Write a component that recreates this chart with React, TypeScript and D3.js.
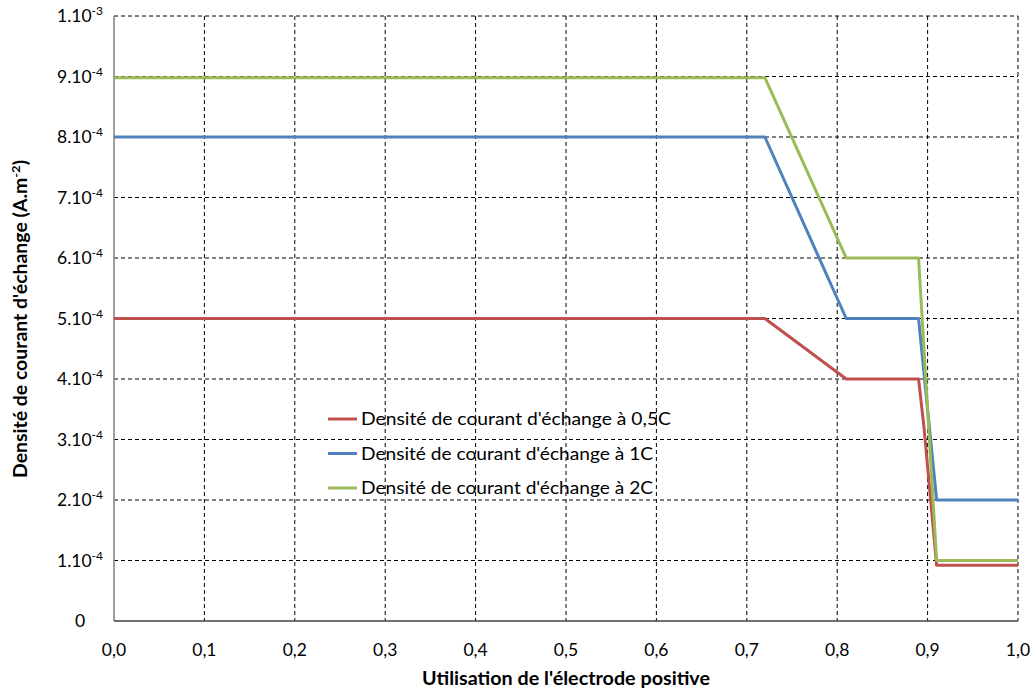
import React from "react";
import * as d3 from "d3";

const xTicks = [0, 0.1, 0.2, 0.3, 0.4, 0.5, 0.6, 0.7, 0.8, 0.9, 1.0];
const yTicks = [0, 1e-4, 2e-4, 3e-4, 4e-4, 5e-4, 6e-4, 7e-4, 8e-4, 9e-4, 1e-3];
const yTickMantissa = ["0", "1.10", "2.10", "3.10", "4.10", "5.10", "6.10", "7.10", "8.10", "9.10", "1.10"];
const yTickExp = ["", "-4", "-4", "-4", "-4", "-4", "-4", "-4", "-4", "-4", "-3"];

const seriesNames = [
  "Densité de courant d'échange à 0,5C",
  "Densité de courant d'échange à 1C",
  "Densité de courant d'échange à 2C",
];
const seriesColors = ["#C0504D", "#4F81BD", "#9BBB59"];

const redX = [0, 0.72, 0.81, 0.89, 0.896, 0.91, 1.0];
const redY = [5e-4, 5e-4, 4e-4, 4e-4, 3.2e-4, 0.92e-4, 0.92e-4];
const blueX = [0, 0.72, 0.81, 0.89, 0.91, 1.0];
const blueY = [8e-4, 8e-4, 5e-4, 5e-4, 2e-4, 2e-4];
const greenX = [0, 0.72, 0.81, 0.89, 0.91, 1.0];
const greenY = [8.98e-4, 8.98e-4, 6e-4, 6e-4, 1e-4, 1e-4];

const seriesX = [redX, blueX, greenX];
const seriesY = [redY, blueY, greenY];

const W = 1036, H = 690;
const L = 114, R = 1018, T = 16, B = 621;

export default function App() {
  const x = d3.scaleLinear().domain([0, 1]).range([L, R]);
  const y = d3.scaleLinear().domain([0, 1e-3]).range([B, T]);
  const line = d3.line<[number, number]>().x(d => x(d[0])).y(d => y(d[1]));
  const font = "Lato, 'Open Sans', sans-serif";
  const legendLen = [310, 292, 292];
  return (
    <svg width={W} height={H} style={{ position: "absolute", left: 0, top: 0, background: "#fff" }}>
      <rect x={0} y={0} width={W} height={H} fill="#fff" />
      {/* grid */}
      {xTicks.slice(1).map((t, i) => (
        <line key={"gx" + i} x1={x(t)} x2={x(t)} y1={T} y2={B} stroke="#000" strokeWidth={1} strokeDasharray="4,3" />
      ))}
      {yTicks.slice(1).map((t, i) => (
        <line key={"gy" + i} x1={L} x2={R} y1={y(t)} y2={y(t)} stroke="#000" strokeWidth={1} strokeDasharray="4,3" />
      ))}
      {/* axes */}
      <line x1={L} x2={L} y1={T} y2={B} stroke="#808080" strokeWidth={1.5} />
      <line x1={L} x2={R} y1={B} y2={B} stroke="#404040" strokeWidth={1.5} />
      {/* series */}
      {seriesX.map((xs, si) => (
        <path key={"s" + si} d={line(xs.map((v, i) => [v, seriesY[si][i]]) as [number, number][]) || ""}
          fill="none" stroke={seriesColors[si]} strokeWidth={3} strokeLinejoin="round" />
      ))}
      {/* y tick labels */}
      {yTicks.map((t, i) => (
        <text key={"yt" + i} x={80} y={y(t) + 6} textAnchor="middle" fontFamily={font} fontSize={17.5} fill="#000">
          {yTickMantissa[i]}
          {yTickExp[i] && <tspan fontSize={12} dy={-7}>{yTickExp[i]}</tspan>}
        </text>
      ))}
      {/* x tick labels */}
      {xTicks.map((t, i) => (
        <text key={"xt" + i} x={x(t)} y={656} textAnchor="middle" fontFamily={font} fontSize={17.5} fill="#000">
          {d3.format(".1f")(t).replace(".", ",")}
        </text>
      ))}
      {/* axis titles */}
      <text x={(L + R) / 2} y={685} textAnchor="middle" fontFamily={font} fontSize={18} fontWeight="bold" fill="#000"
        textLength={288} lengthAdjust="spacingAndGlyphs">
        Utilisation de l'électrode positive
      </text>
      <text transform={`translate(27, 319) rotate(-90)`} textAnchor="middle" fontFamily={font} fontSize={18} fontWeight="bold" fill="#000"
        textLength={318} lengthAdjust="spacingAndGlyphs">
        Densité de courant d'échange (A.m<tspan fontSize={12} dy={-7}>-2</tspan><tspan dy={7}>)</tspan>
      </text>
      {/* legend */}
      {seriesNames.map((n, i) => (
        <g key={"lg" + i} transform={`translate(328, ${419 + i * 34.5})`}>
          <line x1={0} x2={29} y1={0} y2={0} stroke={seriesColors[i]} strokeWidth={3} />
          <text x={33} y={6} fontFamily={font} fontSize={18} fill="#000"
            textLength={legendLen[i]} lengthAdjust="spacingAndGlyphs">{n}</text>
        </g>
      ))}
    </svg>
  );
}
